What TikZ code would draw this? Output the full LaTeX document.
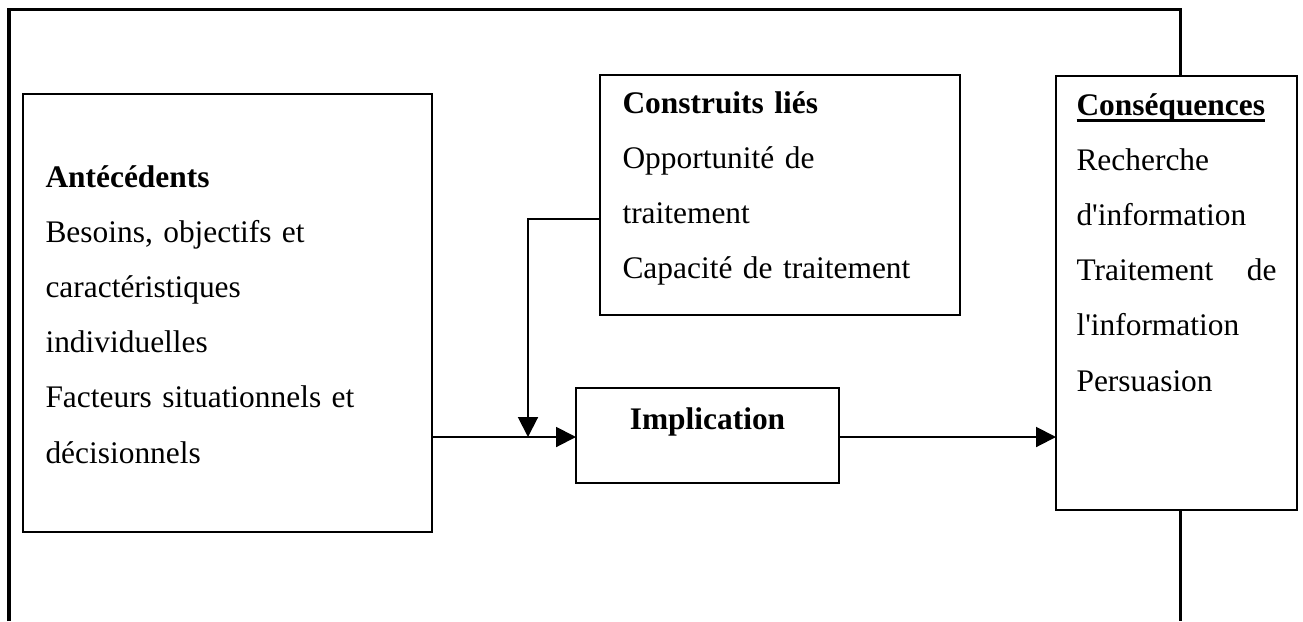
\documentclass[tikz,border=0pt]{standalone}
\usepackage{fontspec}
\setmainfont{Liberation Serif}
\usetikzlibrary{positioning, calc, arrows.meta}
\newcommand{\heavyul}[1]{\leavevmode\setbox0\hbox{#1}\rlap{\rule[-2.8pt]{\wd0}{1.1pt}}\box0}

\begin{document}
\begin{tikzpicture}[x=0.382pt,y=-0.382pt,
  block/.style={rectangle,draw,fill=white,line width=0.76pt,inner sep=0pt,outer sep=0pt,anchor=north west},
  txt/.style={anchor=base west,inner sep=0pt,font=\fontsize{12}{21.1}\selectfont},
  flow/.style={-{Triangle[length=7.6pt,width=7.6pt]},line width=0.76pt}]
\useasboundingbox (0,0) rectangle (1303,621);
% outer frame, open at the bottom
\draw[line width=1.15pt] (9,621) -- (9,9) -- (1180,9) -- (1180,621);

\node (ante) [block,minimum width=409*0.382pt,minimum height=438*0.382pt] at (23,94) {};
\node (constr) [block,minimum width=360*0.382pt,minimum height=240*0.382pt] at (600,75) {};
\node (impl) [block,minimum width=263*0.382pt,minimum height=95*0.382pt] at (576,388) {};
\node (conseq) [block,minimum width=241*0.382pt,minimum height=434*0.382pt] at (1056,76) {};

\node (antetxt) [txt,text width=380*0.382pt] at (45,187) {\textbf{Antécédents}\\Besoins, objectifs et\\caractéristiques\\individuelles\\Facteurs situationnels et\\décisionnels};
\node (constrtxt) [txt,text width=330*0.382pt] at (622,113) {\textbf{Construits liés}\\Opportunité de\\traitement\\Capacité de traitement};
\node (impltxt) [txt,anchor=base] at (707.5,429) {\textbf{Implication}};
\node (conseqtxt) [txt,text width=200*0.382pt] at (1076,115) {\heavyul{\textbf{Conséquences}}\\Recherche\\d\textquotesingle information\\\makebox[76.4pt][l]{Traitement\hfill de}\\l\textquotesingle information\\Persuasion};

\coordinate (fb) at (528,437);
\begin{scope}
  \draw [flow] (ante.east |- fb) -- (impl.west |- fb);
  \draw [flow] (impl.east |- fb) -- (conseq.west |- fb);
  \draw [flow] ([yshift=-9.2pt]constr.west) -| (fb);
\end{scope}
\end{tikzpicture}
\end{document}
